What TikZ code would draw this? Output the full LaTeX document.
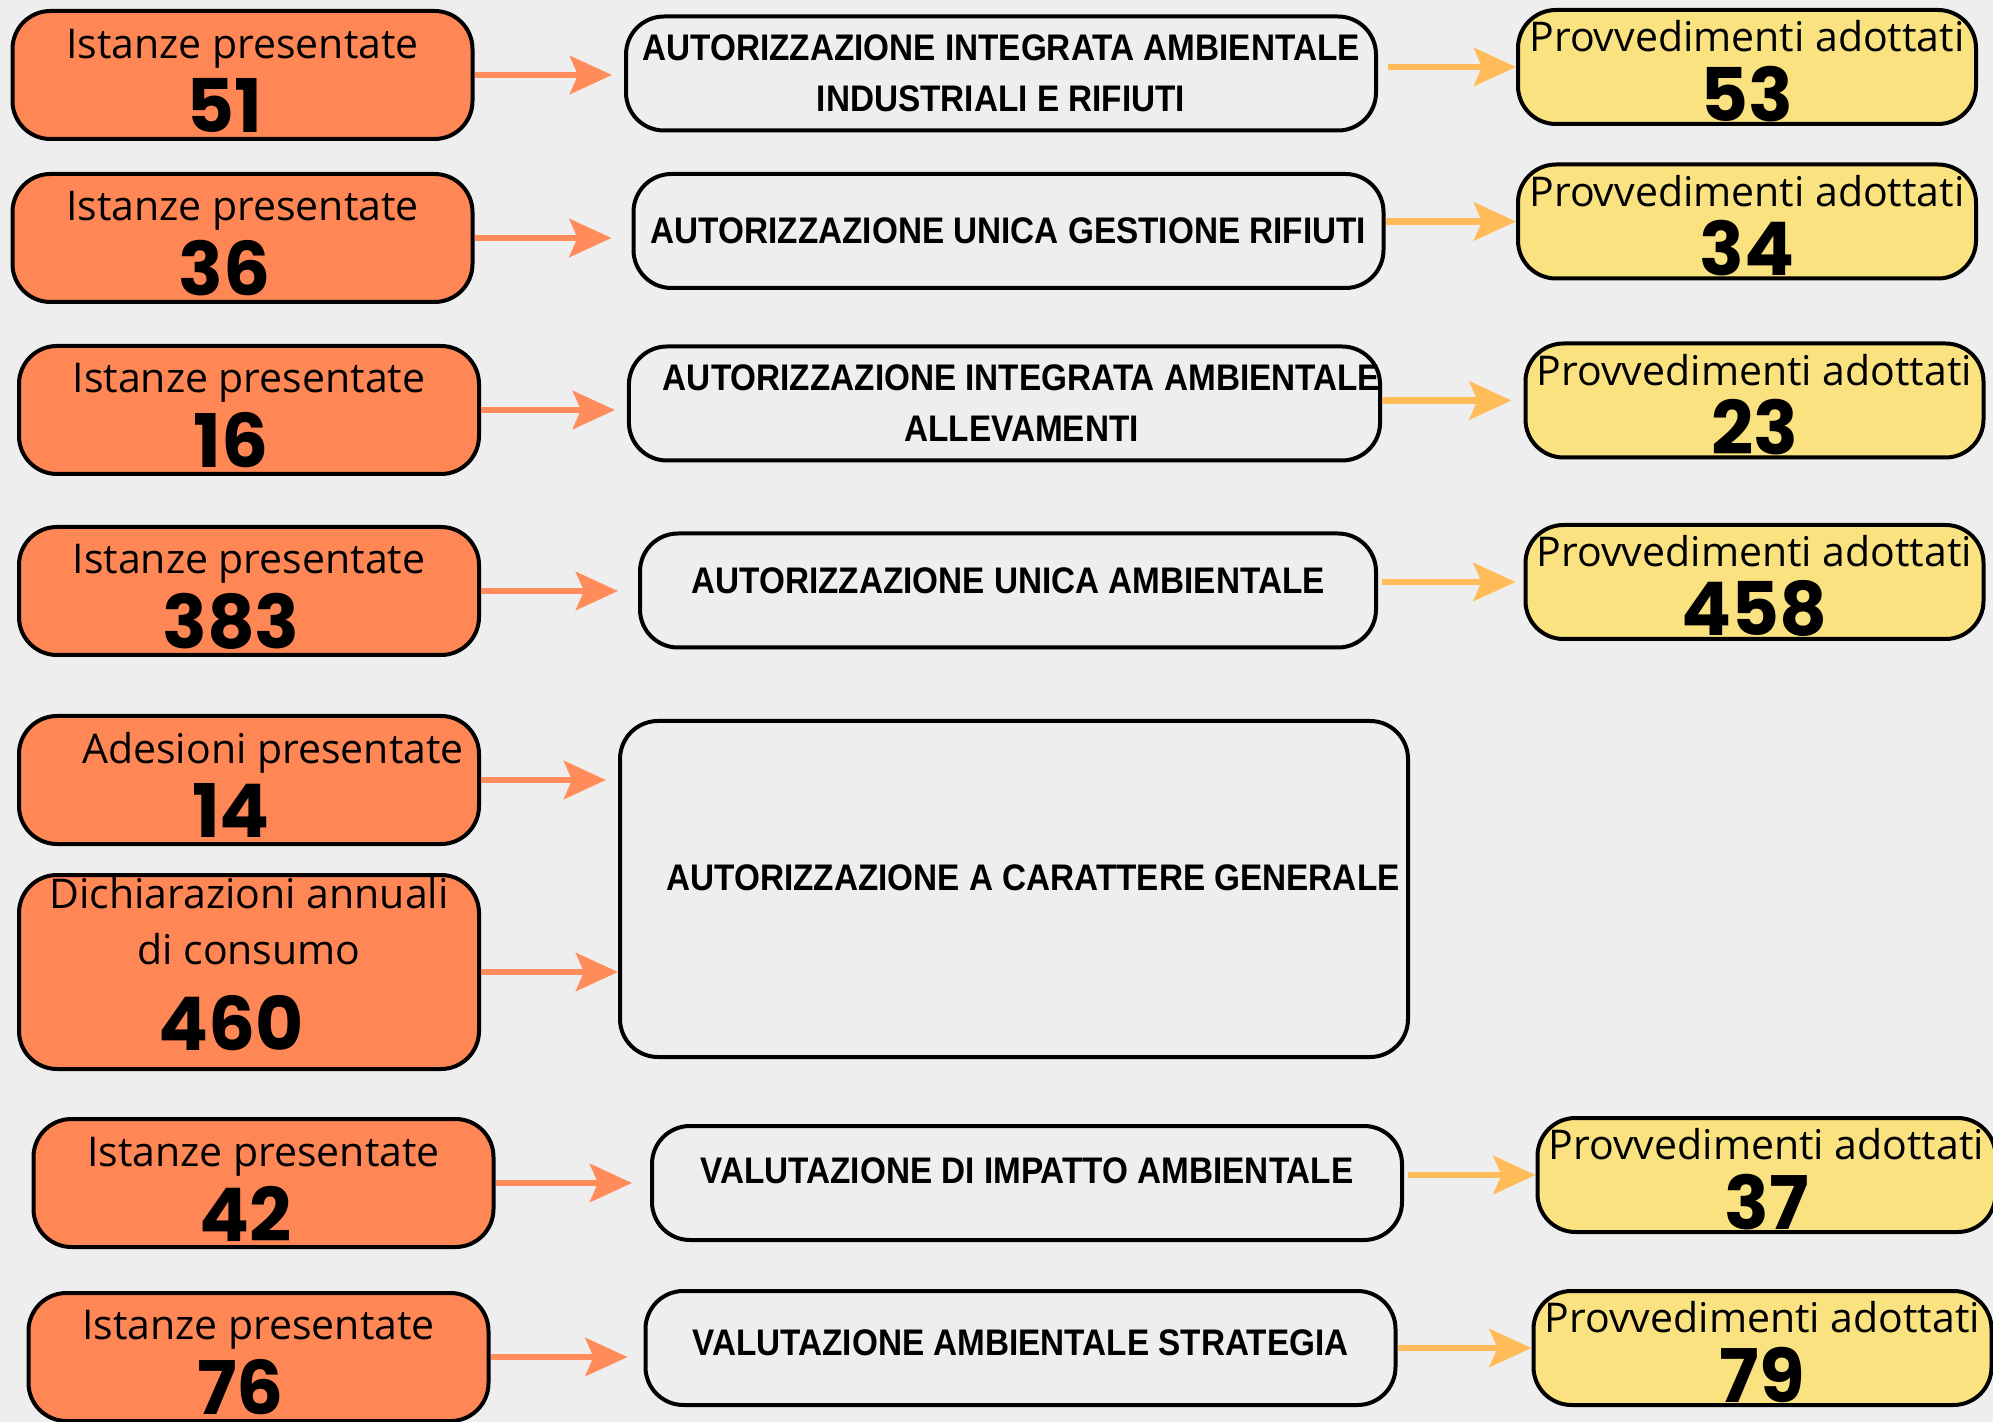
\documentclass[tikz,border=0pt]{standalone}
\usepackage{fontspec}
\usetikzlibrary{arrows.meta}
\newfontfamily\lblfont{Open Sans}
\newfontfamily\numfont{Poppins}
\newfontfamily\capfont[FakeStretch=0.9]{Liberation Sans}
\definecolor{bgcol}{HTML}{EEEEEE}
\definecolor{incol}{HTML}{FF8756}
\definecolor{outcol}{HTML}{F9E27F}
\definecolor{inarr}{HTML}{FF8C5A}
\definecolor{outarr}{HTML}{FFBC58}
\newcommand{\lbltxt}{\lblfont\fontsize{20.5}{24}\selectfont}
\newcommand{\numtxt}{\numfont\bfseries\fontsize{37}{40}\selectfont}
\newcommand{\innum}[1]{\numtxt #1\hspace*{18pt}}
\newcommand{\inlbl}[1]{\rule{0pt}{20.6pt}#1}
\newcommand{\outlbl}[1]{\rule{0pt}{19.6pt}#1}
\newcommand{\captxt}{\capfont\bfseries\fontsize{18.5}{25.5}\selectfont}
\begin{document}
\begin{tikzpicture}[x=0.5pt,y=-0.5pt,
    box/.style={draw=black, line width=2pt, rounded corners=19pt, align=center, inner sep=0pt},
    inbox/.style={box, fill=incol, minimum width=230pt, minimum height=64pt, font=\lbltxt},
    outbox/.style={box, fill=outcol, minimum width=229pt, minimum height=57pt, font=\lbltxt},
    autbox/.style={box, minimum width=375pt, minimum height=57pt, font=\captxt},
    inarrow/.style={draw=inarr, line width=3.3pt, shorten >=6pt, -{Stealth[length=21pt,width=19pt,inset=4pt]}},
    outarrow/.style={draw=outarr, line width=3.3pt, -{Stealth[length=21pt,width=19pt,inset=4pt]}}]
  \useasboundingbox (0,0) rectangle (1993,1422);
  \fill[bgcol] (0,0) rectangle (1993,1422);

  % istanze
  \node[inbox] (i1) at (242.5,75) {\inlbl{Istanze presentate}\\[4pt]\innum{51}};
  \node[inbox] (i2) at (242.5,238) {\inlbl{Istanze presentate}\\[4pt]\innum{36}};
  \node[inbox] (i3) at (249,410) {\inlbl{Istanze presentate}\\[4pt]\innum{16}};
  \node[inbox] (i4) at (249,591) {\inlbl{Istanze presentate}\\[4pt]\innum{383}};
  \node[inbox] (i5) at (249,780) {\inlbl{\hspace*{24pt}Adesioni presentate}\\[4pt]\innum{14}};
  \node[inbox, minimum height=97pt] (i6) at (249,972) {Dichiarazioni annuali\\[4pt]di consumo\\[14pt]\innum{460}\rule[-8pt]{0pt}{8pt}};
  \node[inbox] (i7) at (263.5,1183) {\inlbl{Istanze presentate}\\[4pt]\innum{42}};
  \node[inbox] (i8) at (258.5,1357) {\inlbl{Istanze presentate}\\[4pt]\innum{76}};

  % autorizzazioni
  \node[autbox] (a1) at (1001,73.5) {AUTORIZZAZIONE INTEGRATA AMBIENTALE\\INDUSTRIALI E RIFIUTI};
  \node[autbox] (a2) at (1008.5,231) {AUTORIZZAZIONE UNICA GESTIONE RIFIUTI};
  \node[autbox] (a3) at (1004.5,403.5) {\hspace*{17pt}AUTORIZZAZIONE INTEGRATA AMBIENTALE\\\hspace*{17pt}ALLEVAMENTI};
  \node[autbox, minimum width=368pt, text depth=10pt] (a4) at (1008,590.5) {AUTORIZZAZIONE UNICA AMBIENTALE};
  \node[autbox, minimum width=394pt, minimum height=168pt, text depth=11pt] (a5) at (1014,889) {\hspace*{19pt}AUTORIZZAZIONE A CARATTERE GENERALE};
  \node[autbox, text depth=12pt] (a6) at (1027,1183) {VALUTAZIONE DI IMPATTO AMBIENTALE};
  \node[autbox, text depth=5pt] (a7) at (1020.5,1348) {VALUTAZIONE AMBIENTALE STRATEGIA};

  % provvedimenti
  \node[outbox] (p1) at (1747,67) {\outlbl{Provvedimenti adottati}\\[6pt]\numtxt 53};
  \node[outbox] (p2) at (1747,221.5) {\outlbl{Provvedimenti adottati}\\[6pt]\numtxt 34};
  \node[outbox] (p3) at (1754.5,400.5) {\outlbl{Provvedimenti adottati}\\[6pt]\numtxt 23};
  \node[outbox] (p4) at (1754.5,582) {\outlbl{Provvedimenti adottati}\\[6pt]\numtxt 458};
  \node[outbox] (p6) at (1766.5,1175) {\outlbl{Provvedimenti adottati}\\[6pt]\numtxt 37};
  \node[outbox] (p7) at (1762.5,1348) {\outlbl{Provvedimenti adottati}\\[6pt]\numtxt 79};

  \begin{scope}
    \draw[inarrow] (i1.east) -- (i1.east -| a1.west);
    \draw[inarrow, shorten >=10pt] (i2.east) -- (i2.east -| a2.west);
    \draw[inarrow] (i3.east) -- (i3.east -| a3.west);
    \draw[inarrow, shorten >=10pt] (i4.east) -- (i4.east -| a4.west);
    \draw[inarrow] (i5.east) -- (i5.east -| a5.west);
    \draw[inarrow, shorten >=0pt] (i6.east) -- (i6.east -| a5.west);
    \draw[inarrow, shorten >=9pt] (i7.east) -- (i7.east -| a6.west);
    \draw[inarrow, shorten >=8pt] (i8.east) -- (i8.east -| a7.west);
  \end{scope}
  \begin{scope}
    \draw[outarrow, shorten <=5pt] (p1.west -| a1.east) -- (p1.west);
    \draw[outarrow] (p2.west -| a2.east) -- (p2.west);
    \draw[outarrow, shorten >=6pt] (p3.west -| a3.east) -- (p3.west);
    \draw[outarrow, shorten <=2pt, shorten >=4pt] (p4.west -| a4.east) -- (p4.west);
    \draw[outarrow, shorten <=2pt] (p6.west -| a6.east) -- (p6.west);
    \draw[outarrow] (p7.west -| a7.east) -- (p7.west);
  \end{scope}
\end{tikzpicture}
\end{document}
